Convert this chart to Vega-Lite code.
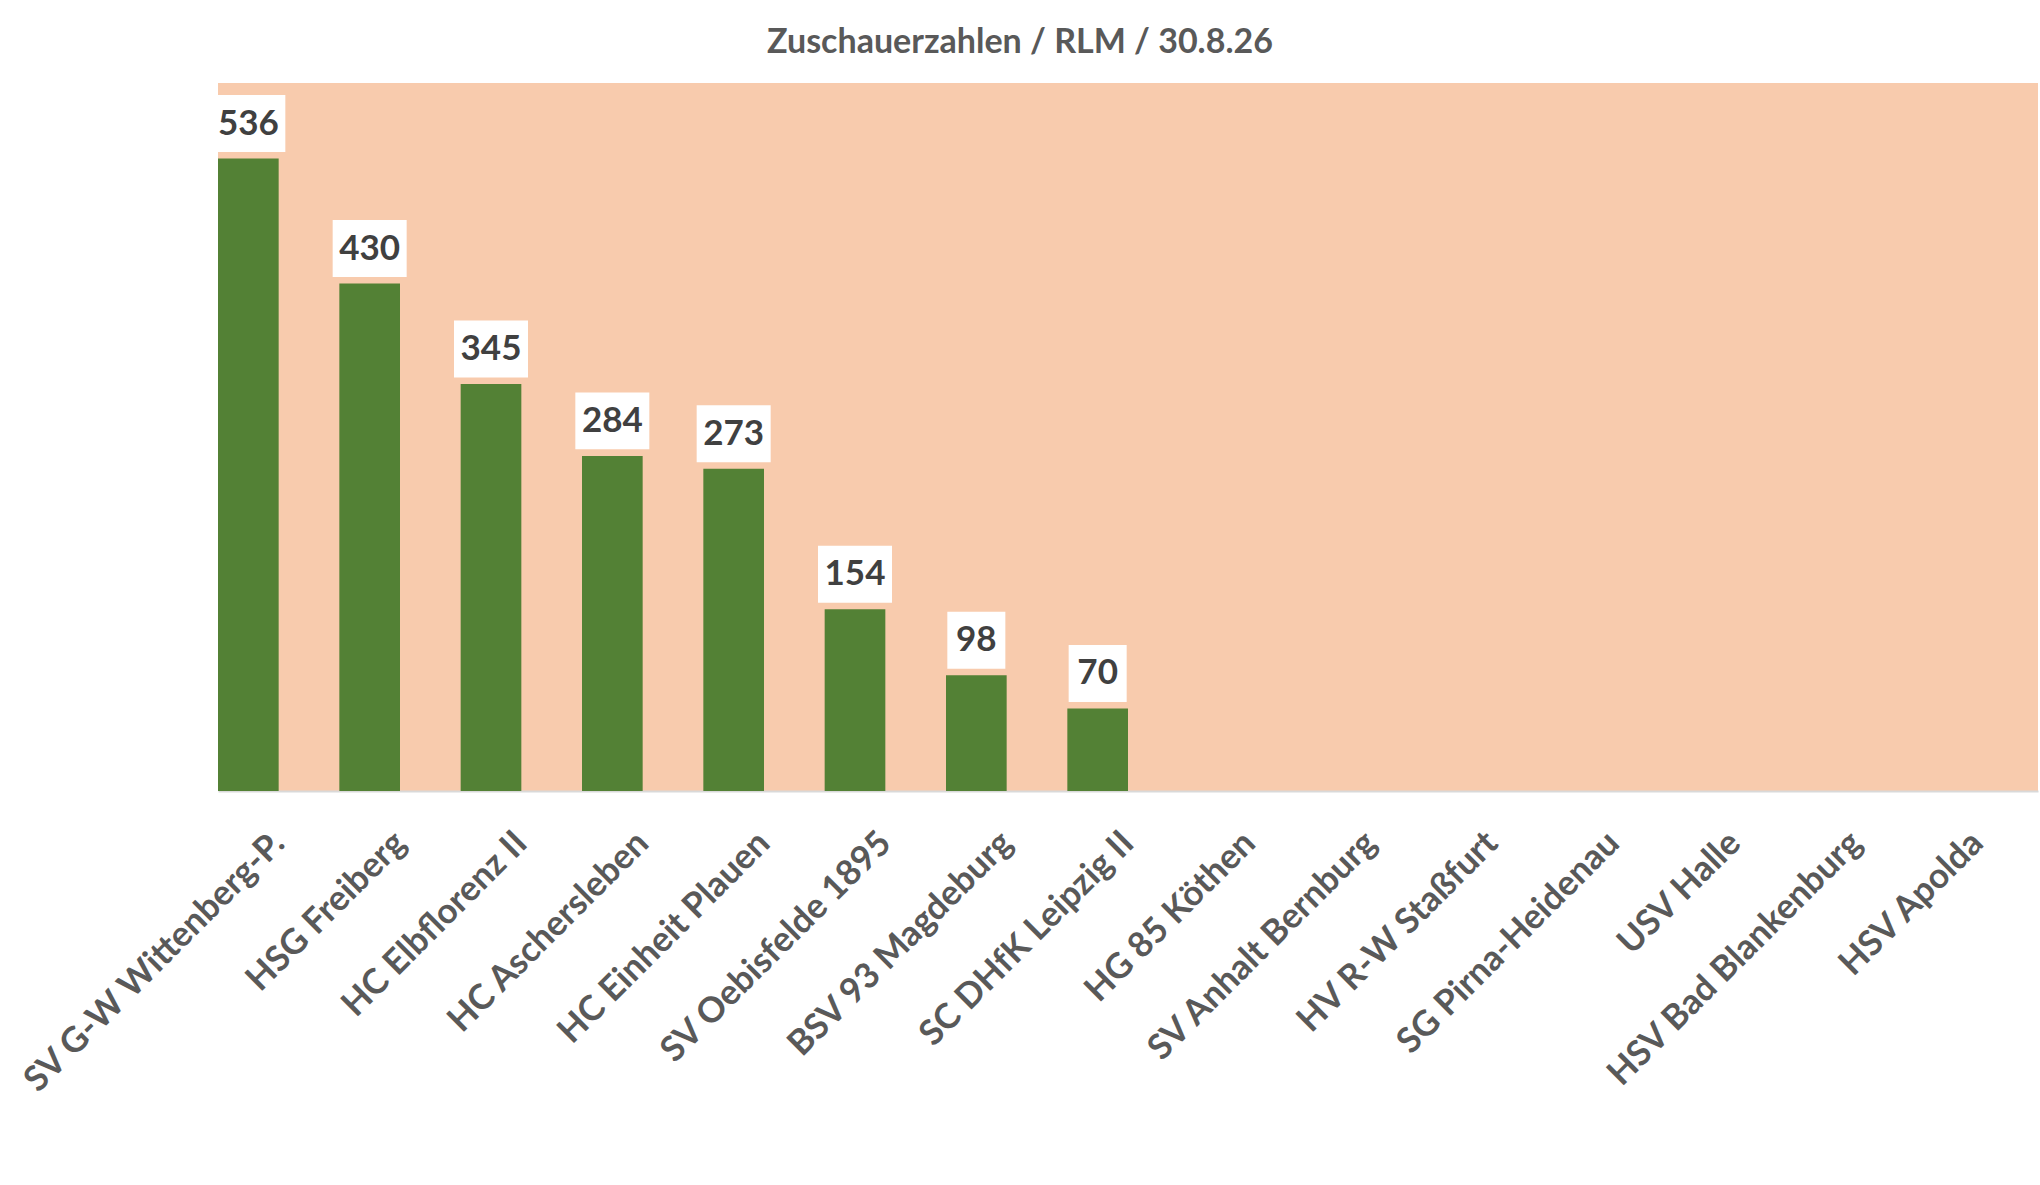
{
  "$schema": "https://vega.github.io/schema/vega-lite/v6.json",
  "width": 1820,
  "height": 708,
  "autosize": {"type": "none"},
  "padding": {"left": 218, "top": 83, "right": 2, "bottom": 394},
  "background": "#ffffff",
  "title": {
    "text": "Zuschauerzahlen / RLM / 30.8.26",
    "font": "Lato",
    "fontSize": 34,
    "fontWeight": "bold",
    "color": "#595959",
    "anchor": "middle",
    "dx": -108,
    "offset": 23
  },
  "data": {
    "values": [
      {"team": "SV G-W Wittenberg-P.", "value": 536},
      {"team": "HSG Freiberg", "value": 430},
      {"team": "HC Elbflorenz II", "value": 345},
      {"team": "HC Aschersleben", "value": 284},
      {"team": "HC Einheit Plauen", "value": 273},
      {"team": "SV Oebisfelde 1895", "value": 154},
      {"team": "BSV 93 Magdeburg", "value": 98},
      {"team": "SC DHfK Leipzig II", "value": 70},
      {"team": "HG 85 Köthen", "value": null},
      {"team": "SV Anhalt Bernburg", "value": null},
      {"team": "HV R-W Staßfurt", "value": null},
      {"team": "SG Pirna-Heidenau", "value": null},
      {"team": "USV Halle", "value": null},
      {"team": "HSV Bad Blankenburg", "value": null},
      {"team": "HSV Apolda", "value": null}
    ]
  },
  "encoding": {
    "x": {
      "field": "team",
      "type": "nominal",
      "sort": null,
      "scale": {
        "domain": ["SV G-W Wittenberg-P.", "HSG Freiberg", "HC Elbflorenz II", "HC Aschersleben", "HC Einheit Plauen", "SV Oebisfelde 1895", "BSV 93 Magdeburg", "SC DHfK Leipzig II", "HG 85 Köthen", "SV Anhalt Bernburg", "HV R-W Staßfurt", "SG Pirna-Heidenau", "USV Halle", "HSV Bad Blankenburg", "HSV Apolda"],
        "paddingInner": 0,
        "paddingOuter": 0
      },
      "axis": {
        "title": null,
        "labelAngle": -45,
        "labelAlign": "right",
        "labelBaseline": "middle",
        "labelFont": "Lato",
        "labelFontSize": 35,
        "labelFontWeight": "bold",
        "labelColor": "#595959",
        "labelPadding": 46,
        "labelOverlap": false,
        "labelLimit": 0,
        "ticks": false,
        "domainColor": "#d9d9d9",
        "domainWidth": 2
      }
    },
    "xOffset": {
      "datum": "Zuschauer",
      "scale": {"domain": ["Zuschauer", "leer"], "paddingInner": 0, "paddingOuter": 0}
    },
    "y": {
      "field": "value",
      "type": "quantitative",
      "scale": {"domain": [0, 600], "nice": false},
      "axis": null
    }
  },
  "layer": [
    {
      "mark": {"type": "bar", "color": "#538135"}
    },
    {
      "transform": [{"filter": "datum.value != null"}],
      "mark": {"type": "point", "filled": true, "opacity": 1, "strokeWidth": 0, "size": 5476},
      "encoding": {
        "yOffset": {"value": -35},
        "color": {"value": "#ffffff"},
        "shape": {
          "condition": {"test": "datum.value >= 100", "value": "M-1,-0.77L1,-0.77L1,0.77L-1,0.77Z"},
          "value": "M-0.784,-0.77L0.784,-0.77L0.784,0.77L-0.784,0.77Z"
        }
      }
    },
    {
      "transform": [{"filter": "datum.value != null"}],
      "mark": {"type": "text", "font": "Lato", "fontSize": 35, "fontWeight": "bold", "color": "#404040", "baseline": "middle", "align": "center"},
      "encoding": {
        "yOffset": {"value": -35},
        "text": {"field": "value", "type": "quantitative"}
      }
    }
  ],
  "config": {
    "view": {"fill": "#F8CBAD", "stroke": null}
  }
}
